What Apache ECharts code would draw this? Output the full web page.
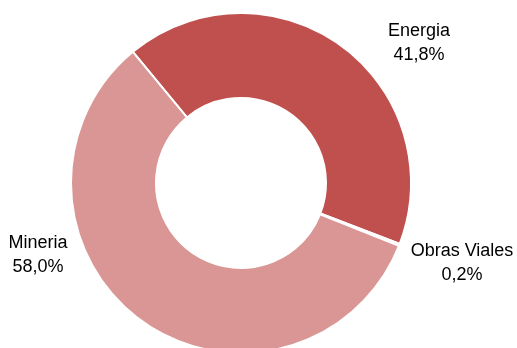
<!DOCTYPE html>
<html>
<head>
<meta charset="utf-8">
<script src="https://cdn.jsdelivr.net/npm/echarts@6/dist/echarts.min.js"></script>
<style>
  html, body { margin: 0; padding: 0; background: #fff; }
  #main { width: 517px; height: 348px; }
</style>
</head>
<body>
<div id="main"></div>
<script>
    var categories = ['Energia', 'Obras Viales', 'Mineria'];
    var shares = [41.8, 0.2, 58.0];
    var colors = ['#C0504D', '#E6B9B8', '#D99694'];

    // label block centres, placed by hand like the original
    var labelPos = [[419, 43], [462, 263], [38, 255]];

    var chartDom = document.getElementById('main');
    var myChart = echarts.init(chartDom);

    var option = {
      animation: false,
      series: [
        {
          type: 'pie',
          center: [241, 183],
          radius: [85, 170],
          startAngle: 129.5,
          clockwise: true,
          avoidLabelOverlap: false,
          itemStyle: {
            borderColor: '#fff',
            borderWidth: 2
          },
          label: {
            show: true,
            position: 'outside',
            overflow: 'none',
            fontFamily: 'Liberation Sans',
            fontSize: 18,
            lineHeight: 24,
            color: '#000',
            formatter: function (p) {
              return p.name + '\n' + p.value.toFixed(1).replace('.', ',') + '%';
            }
          },
          labelLine: { show: false },
          labelLayout: function (params) {
            var pos = labelPos[params.dataIndex];
            return {
              x: pos[0],
              y: pos[1],
              align: 'center',
              verticalAlign: 'middle',
              width: 130
            };
          },
          data: categories.map(function (name, i) {
            return { name: name, value: shares[i], itemStyle: { color: colors[i] } };
          })
        }
      ]
    };

    myChart.setOption(option);
</script>
</body>
</html>
